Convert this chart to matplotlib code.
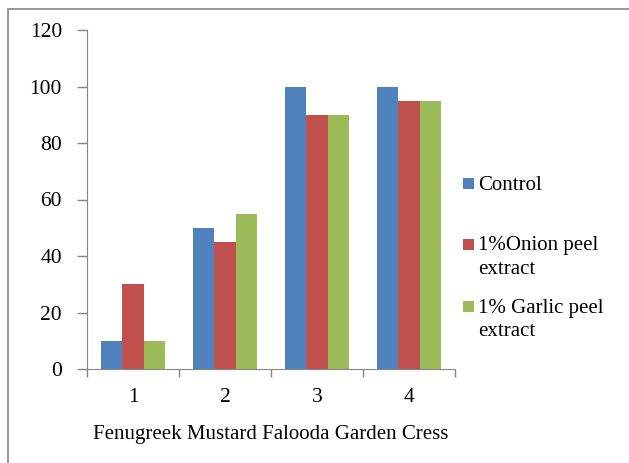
import numpy as np
import matplotlib
matplotlib.use("Agg")
import matplotlib.pyplot as plt
from matplotlib.patches import Rectangle

# data
categories = ["1", "2", "3", "4"]
control = [10, 50, 100, 100]
onion = [30, 45, 90, 95]
garlic = [10, 55, 90, 95]
labels = ["Control", "1%Onion peel\nextract", "1% Garlic peel\nextract"]
colors = ["#4F81BD", "#C0504D", "#9BBB59"]
xlabel = "Fenugreek Mustard Falooda Garden Cress"

plt.rcParams["font.family"] = "Liberation Serif"
axis_col = "#868686"
W, H = 629, 463

fig = plt.figure(figsize=(6.29, 4.63), dpi=100)
fig.patches.append(Rectangle((7.5 / W, -0.01), 1.0, 1 - 9 / H + 0.01, transform=fig.transFigure,
                             fill=False, edgecolor=axis_col, linewidth=1.2))
ax = fig.add_axes([87 / W, 1 - 369 / H, 368 / W, 339 / H])

x = np.arange(len(categories))
w = 0.235
bars = []
for i, vals in enumerate([control, onion, garlic]):
    b = ax.bar(x + (i - 1) * w, vals, width=w, color=colors[i], label=labels[i])
    bars.append(b)

ax.set_xlim(-0.5, len(categories) - 0.5)
ax.set_ylim(0, 120)
ax.set_yticks(range(0, 121, 20))
ax.set_xticks(x)
ax.set_xticklabels(categories)
ax.set_xticks(np.arange(-0.5, len(categories)), minor=True)
ax.tick_params(axis="x", which="major", length=0, labelsize=15.5, pad=14)
ax.tick_params(axis="x", which="minor", length=6, width=1, color=axis_col, direction="out")
ax.tick_params(axis="y", length=7, width=1, color=axis_col, labelsize=15.5, pad=11)
for s in ["top", "right"]:
    ax.spines[s].set_visible(False)
for s in ["left", "bottom"]:
    ax.spines[s].set_color(axis_col)
ax.set_xlabel(xlabel, fontsize=15, labelpad=13)

# legend drawn as squares + text, first line aligned with square
legend_y = [183, 244, 306]
for lab, col, yy in zip(labels, colors, legend_y):
    fig.patches.append(Rectangle((463 / W, 1 - (yy + 5.5) / H), 11 / W, 11 / H,
                                 transform=fig.transFigure, facecolor=col, edgecolor="none"))
    fig.text(478 / W, 1 - (yy - 7.5) / H, lab, fontsize=15, va="top", ha="left",
             linespacing=1.3)

fig.savefig("out.png", dpi=100)
